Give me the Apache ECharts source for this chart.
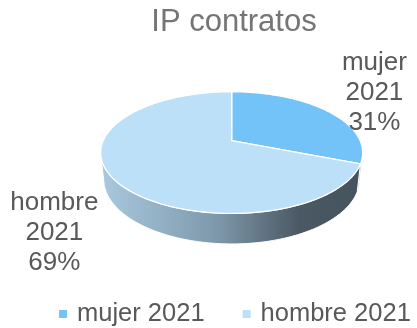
<!DOCTYPE html>
<html>
<head>
<meta charset="utf-8">
<script src="https://cdn.jsdelivr.net/npm/echarts@6/dist/echarts.min.js"></script>
<style>
  html, body { margin: 0; padding: 0; background: #fff; }
  #chart { width: 417px; height: 328px; }
</style>
</head>
<body>
<div id="chart"></div>
<script>
// Contract shares by sex, 2021
const categories = ['mujer 2021', 'hombre 2021'];
const values = [31, 69];

// Slice styling
const topColors = ['#74C3F8', '#BDE0F9'];
const wallColors = [
  ['#8aa3b6', '#6c8496'],
  ['#a9c9de', '#7e98ab', '#4b5964', '#45535d']
];
const FONT = '"Liberation Sans", Arial, sans-serif';
const TEXT = '#595959';

// 3D disc projection (perspective camera looking down on the pie)
const view = {
  cx: 231.7, cy: 140.7,   // screen position of the pie's apex
  f: 584.6,               // focal scale
  dist: 4.55,             // camera distance, in disc radii
  tilt: 27.1 * Math.PI / 180,
  depth: 0.2356           // pie thickness, in disc radii
};
const sinT = Math.sin(view.tilt), cosT = Math.cos(view.tilt);

// Label anchor: radius (in disc radii) and drop (fraction of the thickness)
const labelLayout = [
  { r: 1.57, drop: -0.15 },
  { r: 1.45, drop: 1.2 }
];

function project(X, Y, Z) {
  const d = view.dist - (Y * sinT + Z * cosT);
  return [view.cx + view.f * X / d, view.cy - view.f * (Y * cosT - Z * sinT) / d];
}
// angle in degrees, clockwise from 12 o'clock (the far side of the disc)
function rim(deg, r, Y) {
  const a = deg * Math.PI / 180;
  return project(r * Math.sin(a), Y, -r * Math.cos(a));
}
function arc(a0, a1, r, Y) {
  const pts = [];
  const n = Math.max(2, Math.ceil(Math.abs(a1 - a0)));
  for (let i = 0; i <= n; i++) pts.push(rim(a0 + (a1 - a0) * i / n, r, Y));
  return pts;
}

const total = values.reduce((s, v) => s + v, 0);
// front-facing part of the outer wall
const wallLimit = Math.acos(-1 / (view.dist * cosT)) * 180 / Math.PI;
const wallRange = [wallLimit, 360 - wallLimit];

function renderSlice(params, api) {
  const idx = params.seriesIndex;
  const v = api.value(0);
  let before = 0;
  for (let i = 0; i < idx; i++) before += values[i];
  const a0 = before / total * 360;
  const a1 = a0 + v / total * 360;
  const children = [];

  // outer wall
  const b0 = Math.max(a0, wallRange[0]);
  const b1 = Math.min(a1, wallRange[1]);
  if (b1 > b0) {
    const top = arc(b0, b1, 1, 0);
    const bottom = arc(b1, b0, 1, -view.depth);
    const cols = wallColors[idx];
    const stops = cols.length === 4
      ? [{ offset: 0, color: cols[0] }, { offset: 0.45, color: cols[1] }, { offset: 0.76, color: cols[2] }, { offset: 1, color: cols[3] }]
      : [{ offset: 0, color: cols[0] }, { offset: 1, color: cols[1] }];
    children.push({
      type: 'polygon',
      z2: 1,
      shape: { points: top.concat(bottom) },
      style: {
        fill: new echarts.graphic.LinearGradient(0, 0, 1, 0, stops),
        stroke: '#ffffff',
        lineWidth: 1
      }
    });
  }

  // top face
  const face = [project(0, 0, 0)].concat(arc(a0, a1, 1, 0));
  children.push({
    type: 'polygon',
    z2: 10,
    shape: { points: face },
    style: { fill: topColors[idx], stroke: '#ffffff', lineWidth: 1.3, lineJoin: 'round' }
  });

  // data label
  const mid = (a0 + a1) / 2;
  const lay = labelLayout[idx];
  const p = rim(mid, lay.r, -lay.drop * view.depth);
  const pct = Math.round(v / total * 100) + '%';
  children.push({
    type: 'text',
    z2: 20,
    x: p[0],
    y: p[1],
    style: {
      text: categories[idx].split(' ').join('\n') + '\n' + pct,
      fill: TEXT,
      fontSize: 26,
      fontFamily: FONT,
      lineHeight: 30,
      align: 'center',
      verticalAlign: 'middle'
    }
  });

  return { type: 'group', children: children };
}

const chart = echarts.init(document.getElementById('chart'), null, { renderer: 'canvas' });
chart.setOption({
  animation: false,
  backgroundColor: '#ffffff',
  title: {
    text: 'IP contratos',
    left: 229,
    top: 2,
    textAlign: 'center',
    textStyle: { fontSize: 31, fontWeight: 'normal', color: '#757575', fontFamily: FONT }
  },
  legend: {
    left: 59,
    top: 301,
    padding: 0,
    icon: 'rect',
    itemWidth: 8,
    itemHeight: 8,
    itemGap: 38,
    data: categories,
    textStyle: { fontSize: 25.5, color: TEXT, fontFamily: FONT, padding: [0, 0, 0, 5] }
  },
  series: categories.map((name, i) => ({
    type: 'custom',
    name: name,
    coordinateSystem: 'none',
    itemStyle: { color: topColors[i] },
    renderItem: renderSlice,
    data: [[values[i]]]
  }))
});
</script>
</body>
</html>
